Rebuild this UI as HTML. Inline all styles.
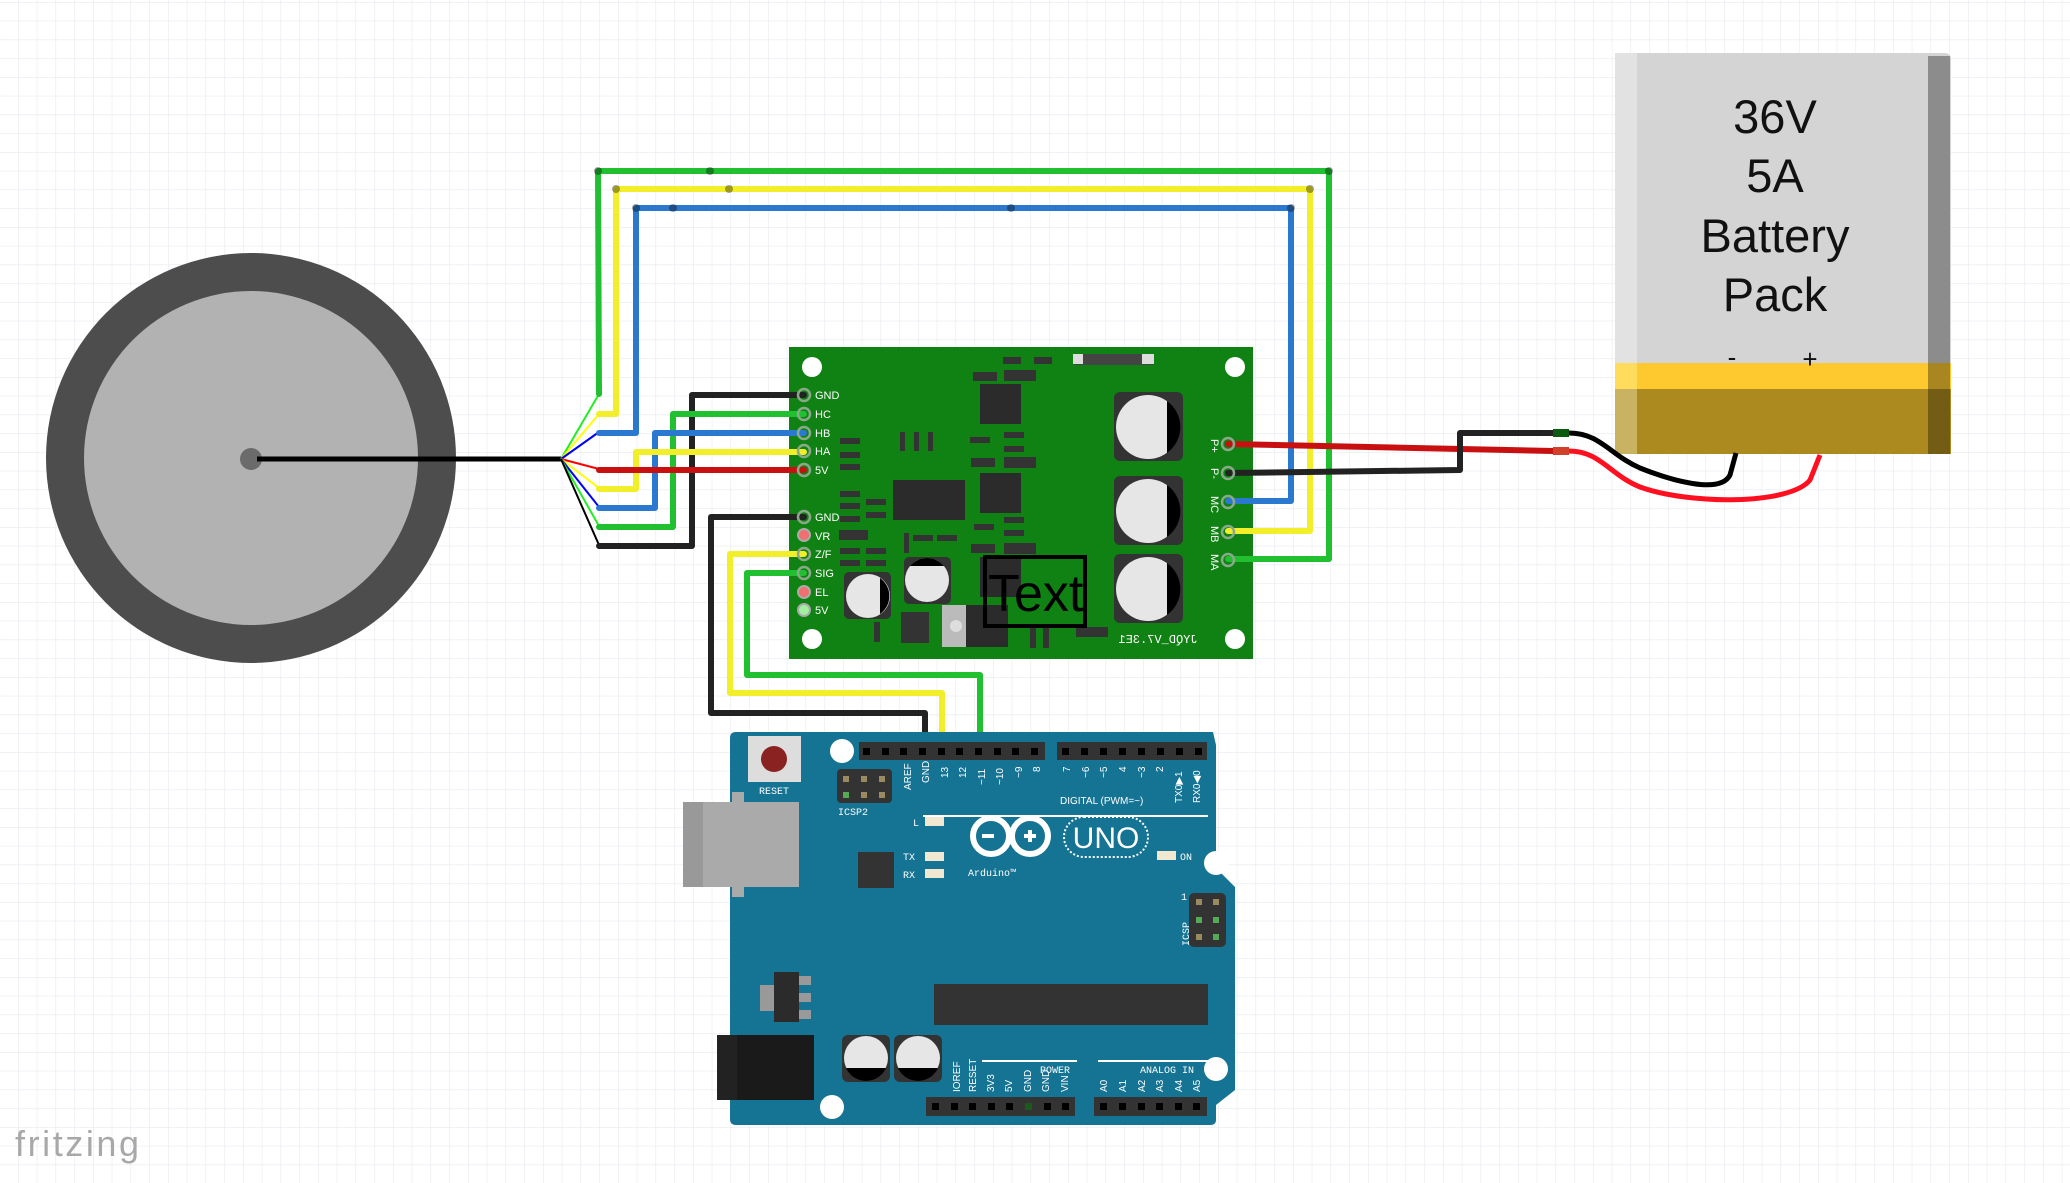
<!DOCTYPE html>
<html><head><meta charset="utf-8"><style>
html,body{margin:0;padding:0;background:#fff;}
svg{display:block;}
text{font-family:"Liberation Sans",sans-serif;}
.pl{font-family:"Liberation Mono",monospace;font-size:11px;fill:#fff;}
.al{font-family:"Liberation Mono",monospace;font-size:10px;fill:#fff;}
</style></head><body>
<svg width="2070" height="1183" viewBox="0 0 2070 1183" xmlns="http://www.w3.org/2000/svg">
<defs>
<pattern id="g" width="18.75" height="18.75" patternUnits="userSpaceOnUse" x="18" y="2">
<path d="M0 0H18.75M0 0V18.75" stroke="#e6e9f0" stroke-width="1.2" fill="none"/>
</pattern>
</defs>
<rect width="2070" height="1183" fill="#fff"/>
<rect width="2070" height="1183" fill="url(#g)"/>

<!-- Motor -->
<circle cx="251" cy="458" r="205" fill="#4d4d4d"/>
<circle cx="251" cy="458" r="167" fill="#b2b2b2"/>
<ellipse cx="251" cy="459" rx="11" ry="11" fill="#6b6b6b"/>
<line x1="257" y1="459" x2="561" y2="459" stroke="#000" stroke-width="5"/>
<g stroke-width="2">
<line x1="561" y1="459" x2="599" y2="394" stroke="#22ee22"/>
<line x1="561" y1="459" x2="599" y2="414" stroke="#ffff00"/>
<line x1="561" y1="459" x2="599" y2="432" stroke="#0000ff"/>
<line x1="561" y1="459" x2="599" y2="469" stroke="#ff0000"/>
<line x1="561" y1="459" x2="599" y2="488" stroke="#ffff00"/>
<line x1="561" y1="459" x2="599" y2="507" stroke="#0000ff"/>
<line x1="561" y1="459" x2="599" y2="526" stroke="#22ee22"/>
<line x1="561" y1="459" x2="599" y2="545" stroke="#000"/>
</g>

<!-- Battery -->
<rect x="1615" y="53" width="336" height="401" rx="6" fill="#d4d4d4"/>
<rect x="1615" y="53" width="22" height="401" fill="#e2e2e2"/>
<rect x="1928" y="56" width="22" height="398" fill="#8c8c8c"/>
<rect x="1615" y="363" width="336" height="26" fill="#fdc92f"/>
<rect x="1615" y="363" width="22" height="26" fill="#ffdc5c"/>
<rect x="1928" y="363" width="22" height="26" fill="#a98720"/>
<rect x="1615" y="389" width="336" height="65" fill="#ac8a1f"/>
<rect x="1615" y="389" width="22" height="65" fill="#c9b262"/>
<rect x="1928" y="389" width="22" height="65" fill="#735c14"/>
<g font-size="47" text-anchor="middle" fill="#111">
<text x="1775" y="133">36V</text>
<text x="1775" y="192">5A</text>
<text x="1775" y="252">Battery</text>
<text x="1775" y="311">Pack</text>
</g>
<text x="1732" y="366" font-size="26" text-anchor="middle" fill="#111">-</text>
<text x="1810" y="368" font-size="26" text-anchor="middle" fill="#111">+</text>

<!-- Battery leads -->
<path d="M1569 433 C1600 433 1610 455 1640 468 C1670 480 1720 495 1730 475 L1736 453" stroke="#000" stroke-width="5" fill="none"/>
<path d="M1569 451 C1600 451 1610 475 1640 487 C1690 505 1790 505 1810 480 L1820 455" stroke="#ff1020" stroke-width="5" fill="none"/>

<!-- Driver board -->
<rect x="789" y="347" width="464" height="312" fill="#108113"/>
<g fill="#fff">
<ellipse cx="812" cy="367" rx="10" ry="10"/><ellipse cx="1235" cy="367" rx="10" ry="10"/>
<ellipse cx="812" cy="639" rx="10" ry="10"/><ellipse cx="1235" cy="639" rx="10" ry="10"/>
</g>
<g fill="#333">
<rect x="1073" y="354" width="81" height="11" fill="#444"/>
<rect x="1073" y="354" width="10" height="10" fill="#ddd"/><rect x="1142" y="354" width="12" height="10" fill="#ddd"/>
<rect x="1003" y="357" width="18" height="7"/><rect x="1034" y="357" width="18" height="7"/>
<rect x="973" y="372" width="24" height="9"/><rect x="1004" y="370" width="32" height="11"/>
<rect x="980" y="384" width="41" height="40" fill="#2b2b2b"/>
<rect x="980" y="473" width="41" height="40" fill="#2b2b2b"/>
<rect x="893" y="480" width="72" height="40" fill="#2b2b2b"/>
<rect x="840" y="438" width="20" height="6"/><rect x="840" y="452" width="20" height="6"/><rect x="840" y="464" width="20" height="6"/>
<rect x="900" y="432" width="5" height="19"/><rect x="914" y="432" width="5" height="19"/><rect x="928" y="432" width="5" height="19"/>
<rect x="970" y="437" width="20" height="6"/><rect x="1004" y="432" width="20" height="6"/><rect x="1004" y="446" width="20" height="6"/>
<rect x="971" y="458" width="24" height="9"/><rect x="1004" y="457" width="32" height="11"/>
<rect x="840" y="491" width="20" height="6"/><rect x="840" y="503" width="20" height="6"/><rect x="840" y="516" width="20" height="6"/>
<rect x="866" y="499" width="20" height="6"/><rect x="866" y="512" width="20" height="6"/>
<rect x="839" y="530" width="29" height="10"/>
<rect x="904" y="533" width="5" height="20"/><rect x="913" y="535" width="20" height="6"/><rect x="937" y="535" width="20" height="6"/>
<rect x="974" y="524" width="20" height="6"/><rect x="1004" y="517" width="20" height="6"/><rect x="1004" y="530" width="20" height="6"/>
<rect x="971" y="544" width="24" height="9"/><rect x="1004" y="543" width="32" height="11"/>
<rect x="840" y="548" width="20" height="6"/><rect x="866" y="548" width="20" height="6"/>
<rect x="840" y="560" width="20" height="6"/><rect x="866" y="560" width="20" height="6"/>
<rect x="980" y="557" width="41" height="40" fill="#2b2b2b"/>
<rect x="874" y="622" width="6" height="20"/>
<rect x="1030" y="628" width="6" height="20"/><rect x="1043" y="628" width="6" height="20"/>
<rect x="1076" y="627" width="32" height="10"/>
</g>
<g>
<rect x="1114" y="392" width="69" height="69" rx="6" fill="#333"/>
<rect x="1114" y="476" width="69" height="69" rx="6" fill="#333"/>
<rect x="1114" y="554" width="69" height="69" rx="6" fill="#333"/>
<circle cx="1148" cy="427" r="32" fill="#e6e6e6"/><path d="M1167 401 A32 32 0 0 1 1167 453Z" fill="#000"/>
<circle cx="1148" cy="511" r="32" fill="#e6e6e6"/><path d="M1167 485 A32 32 0 0 1 1167 537Z" fill="#000"/>
<circle cx="1148" cy="589" r="32" fill="#e6e6e6"/><path d="M1167 563 A32 32 0 0 1 1167 615Z" fill="#000"/>
<rect x="844" y="572" width="47" height="47" rx="5" fill="#333"/>
<circle cx="868" cy="596" r="22" fill="#e6e6e6"/><path d="M880 578 A22 22 0 0 1 880 614Z" fill="#000"/>
<rect x="904" y="557" width="47" height="47" rx="5" fill="#333"/>
<circle cx="927" cy="580" r="22" fill="#e6e6e6"/><path d="M910 566 A22 22 0 0 1 944 566Z" fill="#000"/>
<rect x="901" y="612" width="28" height="31" fill="#333"/>
<rect x="942" y="605" width="24" height="42" fill="#bbb"/>
<circle cx="956" cy="626" r="6" fill="#ddd"/>
<rect x="966" y="605" width="42" height="42" fill="#2b2b2b"/>
</g>
<rect x="985" y="557" width="100" height="69" fill="none" stroke="#000" stroke-width="4"/>
<text x="988" y="611" font-size="52" fill="#000">Text</text>
<text x="1158" y="643" class="pl" text-anchor="middle" transform="translate(2316 0) scale(-1 1)" style="font-size:12px">JYQD_V7.3E1</text>

<g class="pl">
<text x="815" y="399">GND</text><text x="815" y="418">HC</text><text x="815" y="437">HB</text>
<text x="815" y="455">HA</text><text x="815" y="474">5V</text><text x="815" y="521">GND</text>
<text x="815" y="540">VR</text><text x="815" y="558">Z/F</text><text x="815" y="577">SIG</text>
<text x="815" y="596">EL</text><text x="815" y="614">5V</text>
</g>
<g class="pl" font-size="10">
<text transform="translate(1211 439) rotate(90)">P+</text>
<text transform="translate(1211 468) rotate(90)">P-</text>
<text transform="translate(1211 496) rotate(90)">MC</text>
<text transform="translate(1211 526) rotate(90)">MB</text>
<text transform="translate(1211 554) rotate(90)">MA</text>
</g>

<!-- Wires -->
<g fill="none" stroke-width="6" stroke-linejoin="round" stroke-linecap="round">
<polyline points="599,394 598,171 1329,171 1329,559 1228,559" stroke="#20c030"/>
<polyline points="599,414 616,414 616,189 1310,189 1310,531 1228,531" stroke="#f3ee2a"/>
<polyline points="599,433 636,433 636,208 1291,208 1291,501 1228,501" stroke="#2a78d0"/>
<polyline points="804,395 692,395 692,546 599,546" stroke="#222"/>
<polyline points="804,414 673,414 673,527 599,527" stroke="#20c030"/>
<polyline points="804,433 655,433 655,508 599,508" stroke="#2a78d0"/>
<polyline points="804,452 636,452 636,489 599,489" stroke="#f3ee2a"/>
<polyline points="599,470 804,470" stroke="#c81010"/>
<polyline points="804,517 711,517 711,713 925,713 925,751" stroke="#222"/>
<polyline points="804,554 730,554 730,693 942,693 942,751" stroke="#f3ee2a"/>
<polyline points="804,573 747,573 747,675 980,675 980,751" stroke="#20c030"/>
<polyline points="1228,444 1553,451" stroke="#c81010"/>
<polyline points="1228,473 1460,470 1460,433 1553,433" stroke="#222"/>
</g>
<g fill="#000" opacity="0.35">
<circle cx="598" cy="171" r="4"/><circle cx="710" cy="171" r="4"/><circle cx="1329" cy="171" r="4"/>
<circle cx="616" cy="189" r="4"/><circle cx="729" cy="189" r="4"/><circle cx="1310" cy="189" r="4"/>
<circle cx="636" cy="208" r="4"/><circle cx="673" cy="208" r="4"/><circle cx="1011" cy="208" r="4"/><circle cx="1291" cy="208" r="4"/>
</g>
<rect x="1553" y="429" width="16" height="8" fill="#0a5a10"/>
<rect x="1553" y="447" width="16" height="8" fill="#d0402a"/>
<g fill="none" stroke="#8aa88a" stroke-width="2.5">
<circle cx="804" cy="395" r="6"/><circle cx="804" cy="414" r="6"/><circle cx="804" cy="433" r="6"/>
<circle cx="804" cy="451" r="6"/><circle cx="804" cy="470" r="6"/><circle cx="804" cy="517" r="6"/>
<circle cx="804" cy="554" r="6"/><circle cx="804" cy="573" r="6"/>
<circle cx="1228" cy="444" r="6"/><circle cx="1228" cy="473" r="6"/><circle cx="1228" cy="502" r="6"/>
<circle cx="1228" cy="532" r="6"/><circle cx="1228" cy="560" r="6"/>
</g>
<circle cx="804" cy="535" r="6" fill="#f07070" stroke="#aaa" stroke-width="2"/>
<circle cx="804" cy="592" r="6" fill="#f07070" stroke="#aaa" stroke-width="2"/>
<circle cx="804" cy="610" r="6" fill="#a0f0a0" stroke="#aaa" stroke-width="2"/>

<!-- Arduino -->
<path d="M736 732 H1213 L1216 745 V868 L1235 887 V1090 L1216 1105 V1120 Q1216 1125 1210 1125 H736 Q730 1125 730 1119 V738 Q730 732 736 732Z" fill="#157393"/>
<rect x="683" y="802" width="116" height="85" fill="#aaa"/>
<rect x="683" y="802" width="20" height="85" fill="#999"/>
<rect x="732" y="792" width="12" height="10" fill="#aaa"/><rect x="732" y="887" width="12" height="10" fill="#aaa"/>
<rect x="748" y="736" width="53" height="46" fill="#ddd"/>
<circle cx="774" cy="759" r="13" fill="#8b2222"/>
<text x="774" y="794" class="al" text-anchor="middle">RESET</text>
<circle cx="842" cy="751" r="12" fill="#fff"/>
<rect x="837" y="769" width="55" height="34" rx="4" fill="#333"/>
<g fill="#9a8a60"><rect x="843" y="776" width="6" height="6"/><rect x="861" y="776" width="6" height="6"/><rect x="879" y="776" width="6" height="6"/><rect x="861" y="792" width="6" height="6"/><rect x="879" y="792" width="6" height="6"/></g>
<rect x="843" y="792" width="6" height="6" fill="#5a5"/>
<text x="838" y="815" class="al">ICSP2</text>
<rect x="859" y="742" width="186" height="18" fill="#333"/>
<rect x="1057" y="742" width="150" height="18" fill="#333"/>
<g fill="#000">
<rect x="863" y="748" width="7" height="7"/><rect x="882" y="748" width="7" height="7"/><rect x="900" y="748" width="7" height="7"/><rect x="919" y="748" width="7" height="7"/><rect x="938" y="748" width="7" height="7"/><rect x="956" y="748" width="7" height="7"/><rect x="975" y="748" width="7" height="7"/><rect x="994" y="748" width="7" height="7"/><rect x="1012" y="748" width="7" height="7"/><rect x="1031" y="748" width="7" height="7"/>
<rect x="1062" y="748" width="7" height="7"/><rect x="1081" y="748" width="7" height="7"/><rect x="1100" y="748" width="7" height="7"/><rect x="1119" y="748" width="7" height="7"/><rect x="1138" y="748" width="7" height="7"/><rect x="1157" y="748" width="7" height="7"/><rect x="1176" y="748" width="7" height="7"/><rect x="1195" y="748" width="7" height="7"/>
</g>
<g class="al">
<text transform="translate(911 790) rotate(-90)">AREF</text>
<text transform="translate(929 783) rotate(-90)">GND</text>
<text transform="translate(948 778) rotate(-90)">13</text>
<text transform="translate(966 778) rotate(-90)">12</text>
<text transform="translate(985 785) rotate(-90)">~11</text>
<text transform="translate(1003 785) rotate(-90)">~10</text>
<text transform="translate(1022 778) rotate(-90)">~9</text>
<text transform="translate(1040 772) rotate(-90)">8</text>
<text transform="translate(1070 772) rotate(-90)">7</text>
<text transform="translate(1089 778) rotate(-90)">~6</text>
<text transform="translate(1107 778) rotate(-90)">~5</text>
<text transform="translate(1126 772) rotate(-90)">4</text>
<text transform="translate(1145 778) rotate(-90)">~3</text>
<text transform="translate(1163 772) rotate(-90)">2</text>
<text transform="translate(1182 803) rotate(-90)">TX0▶1</text>
<text transform="translate(1200 803) rotate(-90)">RX0◀0</text>
<text x="1060" y="804">DIGITAL (PWM=~)</text>
</g>
<rect x="923" y="815" width="285" height="2" fill="#fff"/>
<text x="913" y="826" class="al" font-size="12">L</text>
<rect x="925" y="817" width="19" height="9" fill="#f0e8d0"/>
<text x="903" y="860" class="al">TX</text><rect x="925" y="852" width="19" height="9" fill="#f0e8d0"/>
<text x="903" y="878" class="al">RX</text><rect x="925" y="869" width="19" height="9" fill="#f0e8d0"/>
<rect x="858" y="852" width="36" height="36" fill="#333"/>
<g fill="none" stroke="#fff" stroke-width="6">
<circle cx="991" cy="836" r="18"/><circle cx="1030" cy="836" r="18"/>
</g>
<rect x="982" y="834" width="12" height="4" fill="#fff"/>
<rect x="1024" y="834" width="12" height="4" fill="#fff"/><rect x="1028" y="830" width="4" height="12" fill="#fff"/>
<rect x="1064" y="817" width="84" height="40" rx="20" fill="none" stroke="#fff" stroke-width="2" stroke-dasharray="2 2"/>
<text x="1106" y="848" font-size="30" fill="#fff" text-anchor="middle">UNO</text>
<text x="968" y="876" class="al" font-size="16">Arduino™</text>
<rect x="1157" y="851" width="19" height="9" fill="#f0e8d0"/>
<text x="1180" y="860" class="al" font-size="12">ON</text>
<circle cx="1216" cy="863" r="12" fill="#fff"/>
<rect x="1189" y="893" width="37" height="54" rx="5" fill="#333"/>
<g fill="#9a8a60"><rect x="1196" y="899" width="6" height="6"/><rect x="1213" y="899" width="6" height="6"/><rect x="1196" y="934" width="6" height="6"/></g>
<g fill="#5a5"><rect x="1196" y="917" width="6" height="6"/><rect x="1213" y="917" width="6" height="6"/><rect x="1213" y="934" width="6" height="6"/></g>
<text transform="translate(1189 946) rotate(-90)" class="al">ICSP</text>
<text x="1181" y="900" class="al">1</text>
<rect x="934" y="984" width="274" height="41" fill="#333"/>
<rect x="760" y="985" width="14" height="26" fill="#999"/>
<rect x="774" y="972" width="25" height="50" fill="#2b2b2b"/>
<rect x="799" y="976" width="12" height="9" fill="#999"/><rect x="799" y="993" width="12" height="9" fill="#999"/><rect x="799" y="1010" width="12" height="9" fill="#999"/>
<rect x="717" y="1035" width="97" height="65" fill="#1a1a1a"/>
<rect x="717" y="1035" width="20" height="65" fill="#222"/>
<rect x="842" y="1035" width="48" height="47" rx="6" fill="#333"/>
<circle cx="866" cy="1058" r="22" fill="#e6e6e6"/><path d="M846 1068 H886 A22 22 0 0 1 846 1068Z" fill="#000"/>
<rect x="894" y="1035" width="48" height="47" rx="6" fill="#333"/>
<circle cx="918" cy="1058" r="22" fill="#e6e6e6"/><path d="M898 1068 H938 A22 22 0 0 1 898 1068Z" fill="#000"/>
<rect x="982" y="1060" width="95" height="2" fill="#fff"/>
<rect x="1098" y="1060" width="110" height="2" fill="#fff"/>
<text x="1040" y="1073" class="al">POWER</text>
<text x="1140" y="1073" class="al">ANALOG IN</text>
<g class="al">
<text transform="translate(960 1092) rotate(-90)">IOREF</text>
<text transform="translate(976 1092) rotate(-90)">RESET</text>
<text transform="translate(994 1092) rotate(-90)">3V3</text>
<text transform="translate(1012 1092) rotate(-90)">5V</text>
<text transform="translate(1031 1092) rotate(-90)">GND</text>
<text transform="translate(1049 1092) rotate(-90)">GND</text>
<text transform="translate(1068 1092) rotate(-90)">VIN</text>
<text transform="translate(1107 1092) rotate(-90)">A0</text>
<text transform="translate(1126 1092) rotate(-90)">A1</text>
<text transform="translate(1145 1092) rotate(-90)">A2</text>
<text transform="translate(1163 1092) rotate(-90)">A3</text>
<text transform="translate(1182 1092) rotate(-90)">A4</text>
<text transform="translate(1200 1092) rotate(-90)">A5</text>
</g>
<circle cx="1216" cy="1069" r="12" fill="#fff"/>
<circle cx="832" cy="1107" r="12" fill="#fff"/>
<rect x="926" y="1097" width="149" height="19" fill="#333"/>
<rect x="1094" y="1097" width="113" height="19" fill="#333"/>
<g fill="#000">
<rect x="932" y="1103" width="7" height="7"/><rect x="951" y="1103" width="7" height="7"/><rect x="969" y="1103" width="7" height="7"/><rect x="988" y="1103" width="7" height="7"/><rect x="1006" y="1103" width="7" height="7"/><rect x="1044" y="1103" width="7" height="7"/><rect x="1062" y="1103" width="7" height="7"/>
<rect x="1100" y="1103" width="7" height="7"/><rect x="1119" y="1103" width="7" height="7"/><rect x="1138" y="1103" width="7" height="7"/><rect x="1156" y="1103" width="7" height="7"/><rect x="1175" y="1103" width="7" height="7"/><rect x="1193" y="1103" width="7" height="7"/>
</g>
<rect x="1025" y="1103" width="7" height="7" fill="#1a5a1a"/>

<text x="15" y="1156" font-size="36" fill="#a8a8a8" font-family="Liberation Mono,monospace" textLength="124">fritzing</text>
</svg>
</body></html>
